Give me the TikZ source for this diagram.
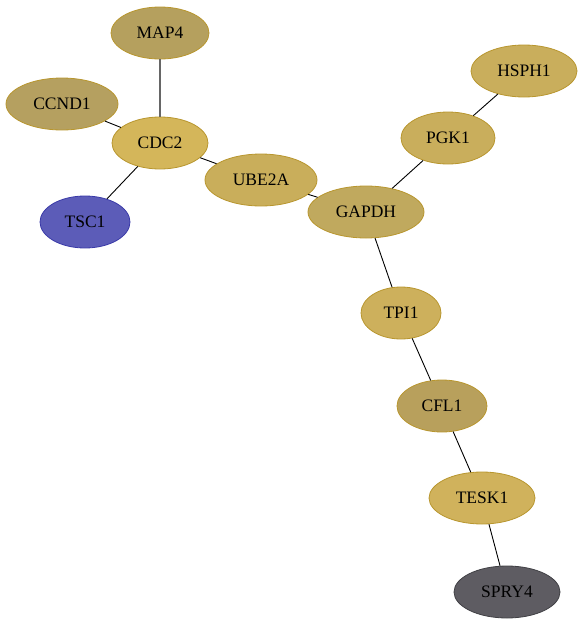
\documentclass[tikz,border=0pt]{standalone}
\usepackage{fontspec}
\setmainfont{Liberation Serif}
\usetikzlibrary{shapes.geometric}
\definecolor{cmap}{HTML}{B5A05E}
\definecolor{cccnd}{HTML}{B5A060}
\definecolor{ccdc}{HTML}{D4B65A}
\definecolor{ctsc}{HTML}{5C5CB8}
\definecolor{btsc}{HTML}{3A3AA8}
\definecolor{cube}{HTML}{C9AE5B}
\definecolor{cgap}{HTML}{C0A95E}
\definecolor{cpgk}{HTML}{C9AE5C}
\definecolor{ctpi}{HTML}{CDB05C}
\definecolor{ccfl}{HTML}{B8A05C}
\definecolor{ctesk}{HTML}{D0B25C}
\definecolor{cspry}{HTML}{5E5C62}
\definecolor{bspry}{HTML}{404044}
\definecolor{bgold}{HTML}{B8962E}
\tikzset{
  gene/.style={ellipse, draw=bgold, line width=0.8pt, inner sep=0pt, minimum height=52pt, font=\fontsize{17.5}{17.5}\selectfont},
  link/.style={draw=black, line width=0.9pt},
}
\begin{document}
\begin{tikzpicture}[x=1pt,y=-1pt]
\useasboundingbox (0,0) rectangle (584,627);
\node[gene, fill=cmap, minimum width=98pt] (MAP4) at (160,33) {MAP4};
\node[gene, fill=cccnd, minimum width=112pt] (CCND1) at (62,104) {CCND1};
\node[gene, fill=ccdc, minimum width=96pt] (CDC2) at (160,143) {CDC2};
\node[gene, fill=ctsc, draw=btsc, minimum width=90pt] (TSC1) at (85,222) {TSC1};
\node[gene, fill=cube, minimum width=112pt] (UBE2A) at (261,180) {UBE2A};
\node[gene, fill=cgap, minimum width=116pt] (GAPDH) at (366,212) {GAPDH};
\node[gene, fill=cpgk, minimum width=94pt] (PGK1) at (448,138) {PGK1};
\node[gene, fill=cpgk, minimum width=106pt] (HSPH1) at (524,71) {HSPH1};
\node[gene, fill=ctpi, minimum width=80pt] (TPI1) at (401,313) {TPI1};
\node[gene, fill=ccfl, minimum width=90pt] (CFL1) at (442,406) {CFL1};
\node[gene, fill=ctesk, minimum width=106pt] (TESK1) at (482,498) {TESK1};
\node[gene, fill=cspry, draw=bspry, minimum width=106pt] (SPRY4) at (507,592) {SPRY4};
\draw[link, draw=black!60, line width=1.3pt] (MAP4) -- (CDC2);
\draw[link] (CCND1) -- (CDC2);
\draw[link] (CDC2) -- (TSC1);
\draw[link] (CDC2) -- (UBE2A);
\draw[link] (UBE2A) -- (GAPDH);
\draw[link] (GAPDH) -- (PGK1);
\draw[link] (PGK1) -- (HSPH1);
\draw[link] (GAPDH) -- (TPI1);
\draw[link] (TPI1) -- (CFL1);
\draw[link] (CFL1) -- (TESK1);
\draw[link] (TESK1) -- (SPRY4);
\end{tikzpicture}
\end{document}
